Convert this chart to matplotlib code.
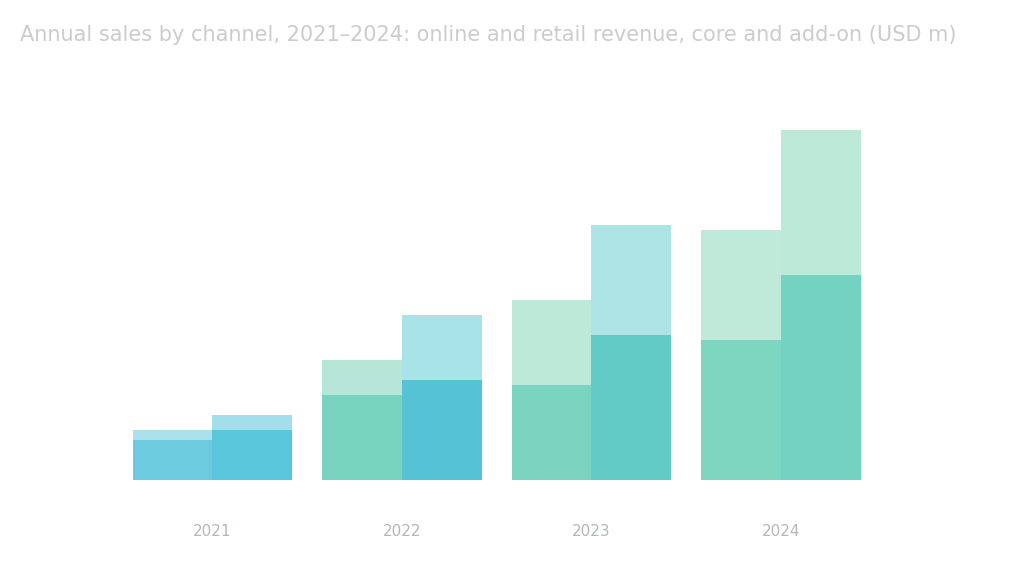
import numpy as np
import matplotlib
matplotlib.use("Agg")
import matplotlib.pyplot as plt

groups = ["2021", "2022", "2023", "2024"]
series = ["Online", "Retail"]

# base (dark) and top (light) segments, per group, per bar
base_a = [40, 85, 95, 140]
top_a = [10, 35, 85, 110]
base_b = [50, 100, 145, 205]
top_b = [15, 65, 110, 145]

dark_a = ["#6ccbdf", "#78d3bf", "#7ad4bf", "#7dd6c0"]
light_a = ["#a9e2ec", "#b5e6d8", "#bde9d9", "#bfead9"]
dark_b = ["#5ac6dc", "#55c3d3", "#62cbc6", "#74d3c0"]
light_b = ["#a3dfea", "#a8e3e8", "#ade4e6", "#bde9d8"]

fig = plt.figure(figsize=(10.24, 5.76), dpi=100)
ax = fig.add_axes([0.098, 0.167, 0.8, 0.642])

x = np.arange(len(groups))
w = 0.42

ax.bar(x - w / 2, base_a, w, color=dark_a, linewidth=0)
ax.bar(x - w / 2, top_a, w, bottom=base_a, color=light_a, linewidth=0)
ax.bar(x + w / 2, base_b, w, color=dark_b, linewidth=0)
ax.bar(x + w / 2, top_b, w, bottom=base_b, color=light_b, linewidth=0)

ax.set_xlim(-0.59, 3.73)
ax.set_ylim(0, 370)
ax.set_xticks(x)
ax.set_xticklabels(groups, color="#b0b8bc", fontsize=11)
ax.tick_params(axis="x", length=0, pad=32)
ax.set_yticks([])
for s in ax.spines.values():
    s.set_visible(False)

fig.text(0.02, 0.94, "Annual sales by channel, 2021–2024: online and retail revenue, core and add-on (USD m)",
         fontsize=15, color="#c8cdd0", ha="left", va="center")

fig.savefig("out.png", dpi=100, facecolor="white")
